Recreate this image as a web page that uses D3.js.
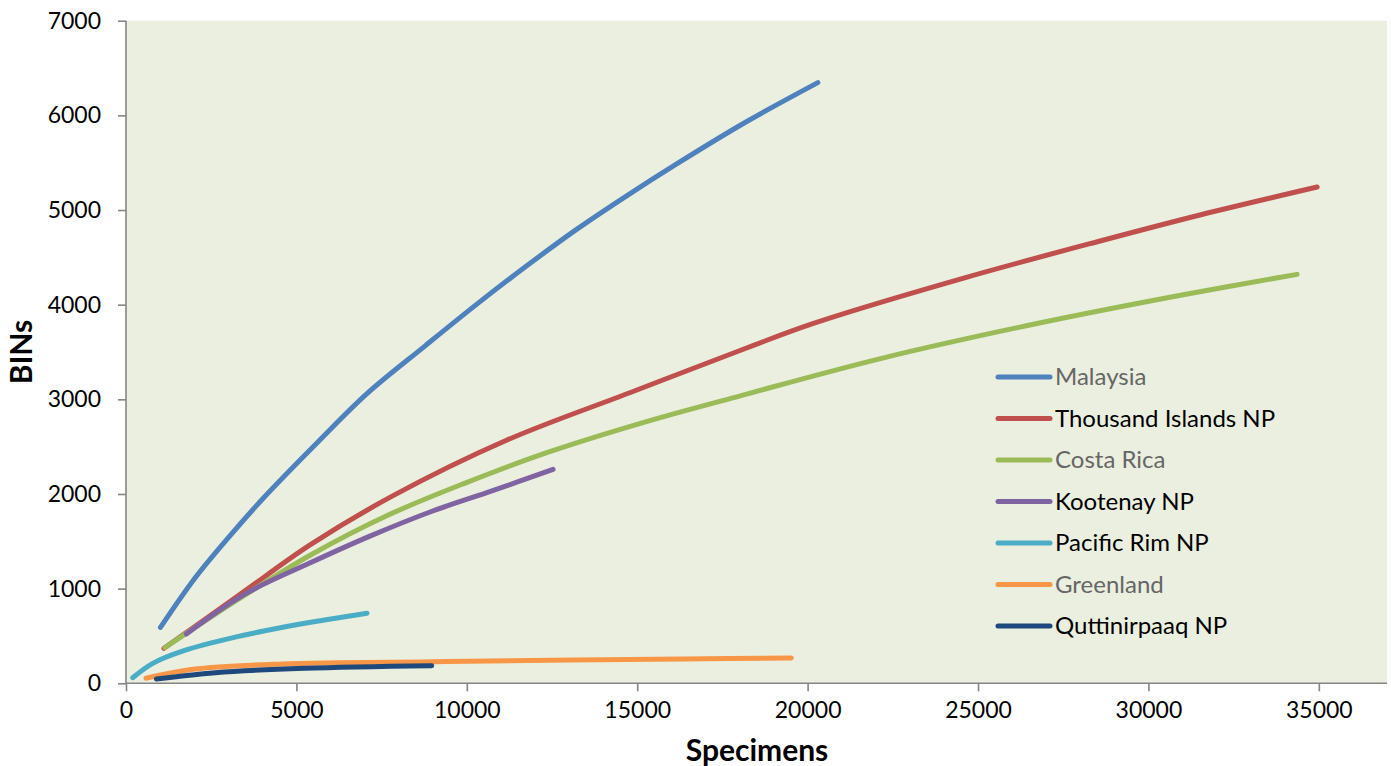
<!DOCTYPE html>
<html>
<head>
<meta charset="utf-8">
<script src="https://cdn.jsdelivr.net/npm/d3@7"></script>
<style>
  html, body { margin: 0; padding: 0; background: #ffffff; }
  svg { display: block; }
  text { font-family: Lato, "Open Sans", sans-serif; }
</style>
</head>
<body>
<svg id="chart" width="1391" height="766"></svg>
<script>
// ---- Data ----
const seriesNames = ["Malaysia", "Thousand Islands NP", "Costa Rica", "Kootenay NP", "Pacific Rim NP", "Greenland", "Quttinirpaaq NP"];
const seriesColors = ["#4F81BD", "#C0504D", "#9BBB59", "#8064A2", "#4BACC6", "#F79646", "#1F497D"];
const legendTextColors = ["#666666", "#000000", "#666666", "#000000", "#000000", "#666666", "#000000"];

const malaysiaX = [1010, 2020, 3030, 4040, 5660, 7070, 8760, 10240, 11720, 13200, 14690, 16170, 18190, 20300];
const malaysiaY = [590, 1110, 1550, 1960, 2560, 3060, 3560, 3990, 4400, 4790, 5150, 5490, 5930, 6346];

const thousandX = [1115, 3370, 5390, 7810, 11180, 14820, 18190, 20150, 24580, 28720, 31540, 34950];
const thousandY = [370, 945, 1460, 1977, 2570, 3075, 3540, 3800, 4281, 4686, 4950, 5243];

const costaX = [1144, 3370, 5390, 7680, 9970, 12390, 15220, 18050, 22200, 26800, 31100, 34360];
const costaY = [378, 905, 1350, 1775, 2118, 2442, 2760, 3040, 3436, 3806, 4110, 4320];

const kootenayX = [1770, 3500, 5390, 7140, 8960, 10780, 12530];
const kootenayY = [521, 945, 1270, 1552, 1815, 2038, 2260];

const pacificX = [197, 786, 1700, 3270, 4190, 5240, 7070];
const pacificY = [59, 211, 345, 493, 563, 634, 740];

const greenlandX = [587, 1966, 4590, 9040, 13100, 16370, 19520];
const greenlandY = [53, 148, 204, 228, 246, 257, 267];

const quttX = [892, 2620, 5240, 8970];
const quttY = [45, 112, 159, 186];

const xTicks = [0, 5000, 10000, 15000, 20000, 25000, 30000, 35000];
const yTicks = [0, 1000, 2000, 3000, 4000, 5000, 6000, 7000];

const seriesX = [malaysiaX, thousandX, costaX, kootenayX, pacificX, greenlandX, quttX];
const seriesY = [malaysiaY, thousandY, costaY, kootenayY, pacificY, greenlandY, quttY];
const series = seriesNames.map((name, i) => ({
  name, color: seriesColors[i], textColor: legendTextColors[i],
  points: seriesX[i].map((x, j) => [x, seriesY[i][j]])
}));

// ---- Layout ----
const svg = d3.select("#chart");
const plotLeft = 126, plotRight = 1387, plotTop = 20.7, plotBottom = 683.3;
const x = d3.scaleLinear().domain([0, 37000]).range([plotLeft, plotRight]);
const y = d3.scaleLinear().domain([0, 7000]).range([plotBottom, plotTop]);

svg.append("rect")
  .attr("x", plotLeft).attr("y", plotTop)
  .attr("width", plotRight - plotLeft).attr("height", plotBottom - plotTop)
  .attr("fill", "#EBEFDF");

// Axes
const axisColor = "#868686";
const xAxis = svg.append("g").attr("transform", `translate(0,${plotBottom})`)
  .call(d3.axisBottom(x).tickValues(xTicks).tickSize(8).tickPadding(10).tickFormat(d3.format("d")));
const yAxis = svg.append("g").attr("transform", `translate(${plotLeft},0)`)
  .call(d3.axisLeft(y).tickValues(yTicks).tickSize(8).tickPadding(17).tickFormat(d3.format("d")));

[xAxis, yAxis].forEach(g => {
  g.select(".domain").attr("stroke", axisColor).attr("stroke-width", 1.6);
  g.selectAll(".tick line").attr("stroke", axisColor).attr("stroke-width", 1.6);
  g.selectAll(".tick text").attr("fill", "#000").style("font-size", "23px")
    .style("font-family", "Lato, 'Open Sans', sans-serif");
});
xAxis.select(".domain").attr("d", `M${plotLeft},0H${plotRight}`);
yAxis.select(".domain").attr("d", `M0,${plotTop}V${plotBottom}`);

// Lines
const line = d3.line().x(d => x(d[0])).y(d => y(d[1])).curve(d3.curveCatmullRom.alpha(0.5));
svg.append("g").selectAll("path").data(series).join("path")
  .attr("d", d => line(d.points))
  .attr("fill", "none")
  .attr("stroke", d => d.color)
  .attr("stroke-width", 5)
  .attr("stroke-linecap", "round")
  .attr("stroke-linejoin", "round");

// Axis titles
svg.append("text")
  .attr("x", 757).attr("y", 761)
  .attr("text-anchor", "middle")
  .style("font-size", "30px").style("font-weight", "bold")
  .text("Specimens");
svg.append("text")
  .attr("transform", "translate(32,352) rotate(-90)")
  .attr("text-anchor", "middle")
  .style("font-size", "30px").style("font-weight", "bold")
  .text("BINs");

// Legend
const legend = svg.append("g");
const legendY0 = 377, legendStep = 41.5;
series.forEach((s, i) => {
  const ly = legendY0 + i * legendStep;
  legend.append("line")
    .attr("x1", 998).attr("x2", 1050).attr("y1", ly).attr("y2", ly)
    .attr("stroke", s.color).attr("stroke-width", 5).attr("stroke-linecap", "round");
  legend.append("text")
    .attr("x", 1055).attr("y", ly).attr("dy", "0.35em")
    .attr("fill", s.textColor)
    .style("font-size", "24px")
    .text(s.name);
});
</script>
</body>
</html>
